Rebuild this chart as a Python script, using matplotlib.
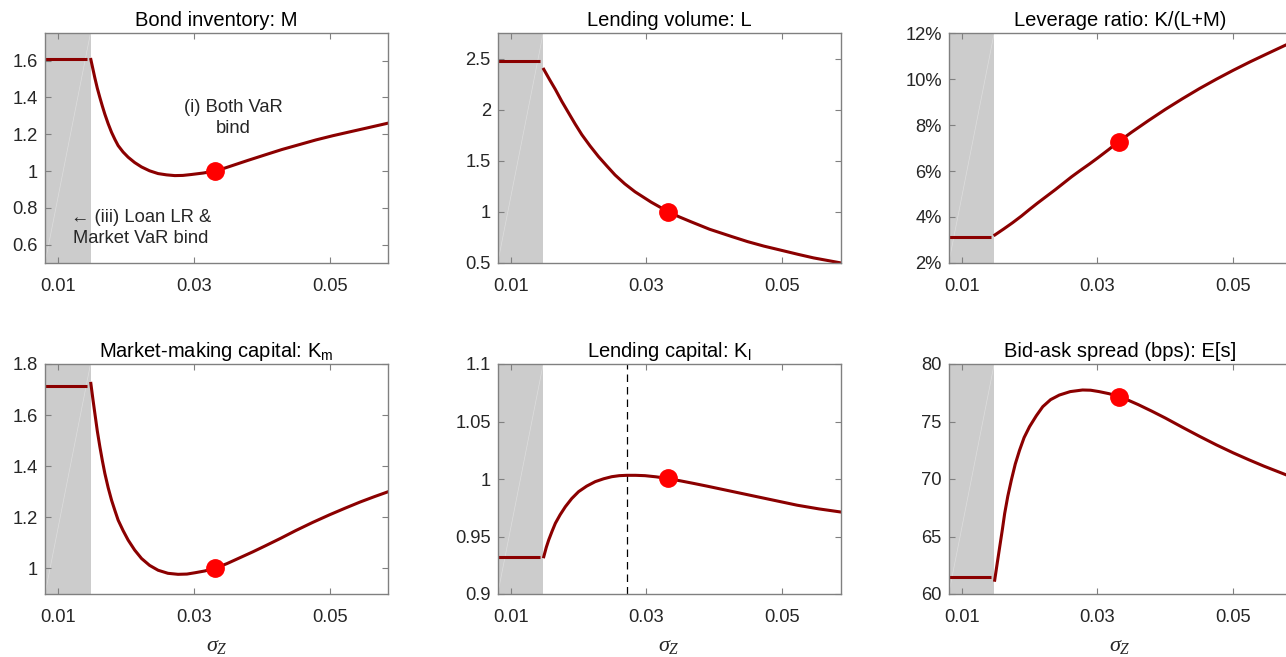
import matplotlib
matplotlib.use("Agg")
import matplotlib.pyplot as plt
from matplotlib.ticker import FuncFormatter, FixedLocator

plt.rcParams['font.family'] = ['Liberation Sans', 'DejaVu Sans']
plt.rcParams['mathtext.fontset'] = 'custom'
plt.rcParams['mathtext.rm'] = 'Liberation Sans'
plt.rcParams['mathtext.it'] = 'Liberation Serif:italic'

# ---------------- data ----------------
x_range = (0.0081, 0.0586)
shade_end = 0.0148
flat_x = [0.0081, 0.0143]
point_x = 0.0331
vline_x = 0.0271
x_ticks = [0.01, 0.03, 0.05]

titles = ["Bond inventory: M", "Lending volume: L", "Leverage ratio: K/(L+M)",
          "Market-making capital: $\\mathregular{K_m}$",
          "Lending capital: $\\mathregular{K_l}$",
          "Bid-ask spread (bps): E[s]"]

# Bond inventory M
m_x = [0.01485, 0.01515, 0.01544, 0.0158, 0.01618, 0.01655, 0.01691, 0.0174, 0.0179,
       0.0184, 0.01887, 0.0196, 0.02034, 0.0213, 0.02231, 0.0235, 0.02475, 0.026,
       0.02721, 0.0284, 0.02966, 0.0314, 0.0331, 0.0345, 0.0358, 0.038, 0.0407,
       0.043, 0.0456, 0.048, 0.0505, 0.053, 0.0554, 0.0586]
m_y = [1.606, 1.555, 1.506, 1.450, 1.399, 1.352, 1.309, 1.257, 1.210,
       1.171, 1.138, 1.103, 1.075, 1.046, 1.022, 1.001, 0.986, 0.979,
       0.975, 0.976, 0.981, 0.989, 1.000, 1.015, 1.031, 1.058, 1.090,
       1.117, 1.144, 1.169, 1.192, 1.213, 1.233, 1.260]
m_flat = 1.61

# Lending volume L
l_x = [0.01488, 0.01575, 0.01659, 0.01755, 0.01854, 0.0195, 0.02049, 0.0217, 0.02294,
       0.0242, 0.02538, 0.0268, 0.02831, 0.0307, 0.03305, 0.0348, 0.03661, 0.0393,
       0.0425, 0.0449, 0.0473, 0.0500, 0.0523, 0.0546, 0.0586]
l_y = [2.395, 2.293, 2.198, 2.080, 1.968, 1.860, 1.755, 1.645, 1.541,
       1.447, 1.361, 1.275, 1.197, 1.095, 1.007, 0.952, 0.902, 0.830,
       0.760, 0.709, 0.665, 0.622, 0.585, 0.550, 0.501]
l_flat = 2.477

# Leverage ratio (%)
k_x = [0.0149, 0.0162, 0.0175, 0.0188, 0.0200, 0.0212, 0.0225, 0.0238, 0.0250,
       0.0262, 0.0275, 0.0288, 0.0300, 0.0316, 0.0331, 0.0350, 0.0375, 0.0400,
       0.0425, 0.0450, 0.0475, 0.0500, 0.0525, 0.0550, 0.0576, 0.0586]
k_y = [3.22, 3.48, 3.75, 4.04, 4.33, 4.61, 4.90, 5.19, 5.47,
       5.75, 6.03, 6.30, 6.56, 6.92, 7.27, 7.68, 8.19, 8.68,
       9.14, 9.58, 9.99, 10.38, 10.75, 11.10, 11.46, 11.59]
k_flat = 3.12

# Market-making capital Km
km_x = [0.01485, 0.01515, 0.01544, 0.0158, 0.01618, 0.01655, 0.01691, 0.0174, 0.0179,
        0.0184, 0.01887, 0.0196, 0.02034, 0.0213, 0.02231, 0.0235, 0.02475, 0.0262,
        0.02769, 0.0290, 0.03015, 0.0316, 0.0331, 0.0349, 0.0368, 0.0387, 0.0405,
        0.0428, 0.0450, 0.0475, 0.0500, 0.0523, 0.0545, 0.0566, 0.0586]
km_y = [1.724, 1.663, 1.607, 1.538, 1.476, 1.421, 1.372, 1.316, 1.267,
        1.226, 1.189, 1.148, 1.111, 1.072, 1.039, 1.012, 0.993, 0.981,
        0.977, 0.978, 0.983, 0.990, 1.000, 1.019, 1.042, 1.065, 1.088,
        1.118, 1.148, 1.180, 1.210, 1.236, 1.260, 1.281, 1.300]
km_flat = 1.713

# Lending capital Kl
kl_x = [0.01488, 0.01525, 0.01561, 0.0161, 0.01659, 0.0173, 0.01806, 0.0190, 0.02001,
        0.0212, 0.02246, 0.0237, 0.02489, 0.0260, 0.02709, 0.0284, 0.02978, 0.0314,
        0.03295, 0.0350, 0.0370, 0.0390, 0.0410, 0.0430, 0.0450, 0.0474, 0.0498,
        0.0522, 0.0554, 0.0586]
kl_y = [0.9324, 0.9405, 0.9470, 0.9545, 0.9615, 0.9690, 0.9759, 0.9830, 0.9890,
        0.9938, 0.9977, 1.0002, 1.0020, 1.0029, 1.0032, 1.0032, 1.0029, 1.0019,
        1.0006, 0.9984, 0.9961, 0.9937, 0.9912, 0.9887, 0.9862, 0.9832, 0.9802,
        0.9772, 0.9740, 0.9713]
kl_flat = 0.9325

# Bid-ask spread
s_x = [0.01487, 0.01525, 0.01561, 0.0160, 0.01634, 0.0168, 0.01732, 0.0179, 0.01853,
       0.0192, 0.0200, 0.0210, 0.02195, 0.0231, 0.02439, 0.0260, 0.02781, 0.0290,
       0.03024, 0.0317, 0.03317, 0.0345, 0.0360, 0.0380, 0.0400, 0.0425, 0.0450,
       0.0475, 0.0500, 0.0523, 0.0545, 0.0577, 0.0586]
s_y = [61.2, 62.7, 64.1, 65.6, 67.0, 68.5, 69.9, 71.3, 72.5,
       73.6, 74.55, 75.5, 76.29, 76.9, 77.3, 77.6, 77.74, 77.72,
       77.6, 77.42, 77.16, 76.86, 76.47, 75.9, 75.3, 74.5, 73.72,
       72.97, 72.27, 71.67, 71.12, 70.38, 70.17]
s_flat = 61.45

series = [(m_x, m_y, m_flat), (l_x, l_y, l_flat), (k_x, k_y, k_flat),
          (km_x, km_y, km_flat), (kl_x, kl_y, kl_flat), (s_x, s_y, s_flat)]
y_lims = [(0.5, 1.75), (0.5, 2.75), (2, 12), (0.9, 1.8), (0.9, 1.1), (60, 80)]
y_ticks = [[0.6, 0.8, 1.0, 1.2, 1.4, 1.6], [0.5, 1.0, 1.5, 2.0, 2.5],
           [2, 4, 6, 8, 10, 12], [1.0, 1.2, 1.4, 1.6, 1.8],
           [0.9, 0.95, 1.0, 1.05, 1.1], [60, 65, 70, 75, 80]]
point_y = [1.0, 1.0, 7.27, 1.0, 1.0005, 77.16]

# ---------------- figure ----------------
W, H = 1286, 657
fig = plt.figure(figsize=(W / 100, H / 100), dpi=100)
col_left = [45, 497.7, 948.7]
row_top = [33, 364]
ax_w, ax_h = 343, 230

line_col = '#8b0000'
spine_col = '#808080'
txt_col = '#262626'
fs_tick = 13.2
fs_title = 14.5

for i in range(6):
    r, c = divmod(i, 3)
    ax = fig.add_axes([col_left[c] / W, 1 - (row_top[r] + ax_h) / H, ax_w / W, ax_h / H])
    xs, ys, flat = series[i]
    ylo, yhi = y_lims[i]
    ax.axvspan(x_range[0], shade_end, color='#cccccc', lw=0, zorder=0)
    ax.plot([x_range[0], shade_end], [ylo, yhi], color='white', lw=0.5, alpha=0.35, zorder=0.5)
    ax.plot(flat_x, [flat, flat], color=line_col, lw=2.2, zorder=2, solid_capstyle='butt')
    ax.plot(xs, ys, color=line_col, lw=2.2, zorder=2, solid_joinstyle='round')
    ax.plot([point_x], [point_y[i]], 'o', color='#ff0000', ms=12.5, zorder=3)
    if i == 4:
        ax.axvline(vline_x, color='black', lw=0.9, ls=(0, (6, 4)), zorder=1)
    ax.set_xlim(*x_range)
    ax.set_ylim(ylo, yhi)
    ax.xaxis.set_major_locator(FixedLocator(x_ticks))
    ax.yaxis.set_major_locator(FixedLocator(y_ticks[i]))
    ax.xaxis.set_major_formatter(FuncFormatter(lambda v, p: f"{v:g}"))
    if i == 2:
        ax.yaxis.set_major_formatter(FuncFormatter(lambda v, p: f"{v:g}%"))
    else:
        ax.yaxis.set_major_formatter(FuncFormatter(lambda v, p: f"{v:g}"))
    ax.tick_params(direction='in', length=4, width=0.8, color=spine_col,
                   labelcolor=txt_col, labelsize=fs_tick, top=True, right=True)
    ax.tick_params(axis='x', pad=11)
    ax.tick_params(axis='y', pad=5)
    for sp in ax.spines.values():
        sp.set_color(spine_col)
        sp.set_linewidth(1.0)
    ax.set_title(titles[i], fontsize=fs_title, color='black', pad=5)
    if r == 1:
        ax.set_xlabel(r'$\sigma_{\mathit{Z}}$', fontsize=16, color=txt_col)
        ax.xaxis.set_label_coords(0.5, -0.18)
    if i == 0:
        ax.text(0.0358, 1.29, "(i) Both VaR\nbind", fontsize=fs_tick, ha='center',
                va='center', multialignment='center', color=txt_col, linespacing=1.3)
        ax.text(0.0119, 0.69, "\u2190 (iii) Loan LR &\nMarket VaR bind", fontsize=fs_tick,
                ha='left', va='center', multialignment='center', color=txt_col,
                linespacing=1.3)

fig.savefig('out.png', dpi=100)
